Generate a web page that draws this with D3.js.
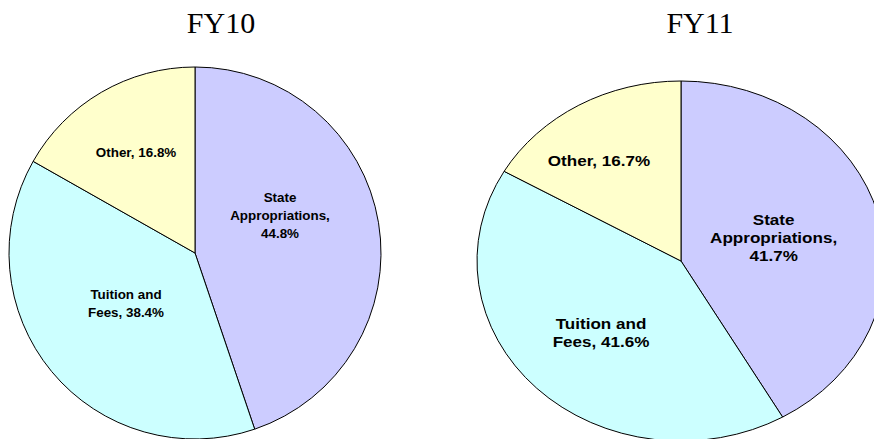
<!DOCTYPE html>
<html>
<head>
<meta charset="utf-8">
<script src="https://cdn.jsdelivr.net/npm/d3@7/dist/d3.min.js"></script>
<style>
  html, body { margin: 0; padding: 0; background: #ffffff; }
  svg { display: block; }
</style>
</head>
<body>
<svg id="chart" width="874" height="439"></svg>
<script>
// ---- data ----
const categories = ["State Appropriations", "Tuition and Fees", "Other"];
const labelLines = [["State", "Appropriations,"], ["Tuition and", "Fees,"], ["Other,"]];
const years = ["FY10", "FY11"];
const fy10Values = [44.8, 38.4, 16.8];
const fy11Values = [41.7, 41.6, 16.7];
const colors = ["#CCCCFF", "#CCFFFF", "#FFFFCC"];

// ---- layout ----
const lineStartDy = [0, -9.15, -18.3]; // by number of lines - 1
const panels = [
  { title: years[0], values: fy10Values, cx: 195, cy: 253, rx: 186, ry: 186,
    titleX: 221, titleY: 33, fontSize: 13.4, textScaleX: 1.0,
    labelPos: [[0.457, -0.204], [-0.371, 0.269], [-0.317, -0.543]] },
  { title: years[1], values: fy11Values, cx: 681, cy: 261, rx: 204, ry: 180,
    titleX: 700, titleY: 33, fontSize: 14, textScaleX: 1.22,
    labelPos: [[0.454, -0.128], [-0.392, 0.40], [-0.402, -0.556]] }
];

const svg = d3.select("#chart");

panels.forEach(p => {
  // title
  svg.append("text")
    .attr("x", p.titleX)
    .attr("y", p.titleY)
    .attr("text-anchor", "middle")
    .attr("font-family", "'Liberation Serif', 'Times New Roman', serif")
    .attr("font-size", 30)
    .attr("fill", "#000")
    .text(p.title);

  const pie = d3.pie().sort(null).value(d => d)
    .startAngle(0).endAngle(2 * Math.PI);
  const arcs = pie(p.values);
  const arc = d3.arc().innerRadius(0).outerRadius(p.ry);

  const g = svg.append("g")
    .attr("transform", `translate(${p.cx},${p.cy}) scale(${p.rx / p.ry},1)`);

  g.selectAll("path")
    .data(arcs)
    .join("path")
    .attr("d", arc)
    .attr("fill", (d, i) => colors[i])
    .attr("stroke", "#000")
    .attr("stroke-width", 1)
    .attr("vector-effect", "non-scaling-stroke");

  // labels
  const lg = svg.append("g").attr("transform", `translate(${p.cx},${p.cy})`);
  arcs.forEach((d, i) => {
    const lines = labelLines[i].slice();
    const pct = d3.format(".1f")(p.values[i]) + "%";
    if (i === 0) lines.push(pct);
    else lines[lines.length - 1] += " " + pct;
    const lx = p.labelPos[i][0] * p.rx;
    const ly = p.labelPos[i][1] * p.ry;
    const t = lg.append("text")
      .attr("transform", `translate(${lx},${ly}) scale(${p.textScaleX},1)`)
      .attr("text-anchor", "middle")
      .attr("font-family", "'Liberation Sans', Arial, sans-serif")
      .attr("font-weight", "bold")
      .attr("font-size", p.fontSize)
      .attr("fill", "#000");
    lines.forEach((ln, k) => {
      t.append("tspan")
        .attr("x", 0)
        .attr("y", lineStartDy[lines.length - 1] + k * 18.3 + p.fontSize * 0.36)
        .text(ln);
    });
  });
});
</script>
</body>
</html>
